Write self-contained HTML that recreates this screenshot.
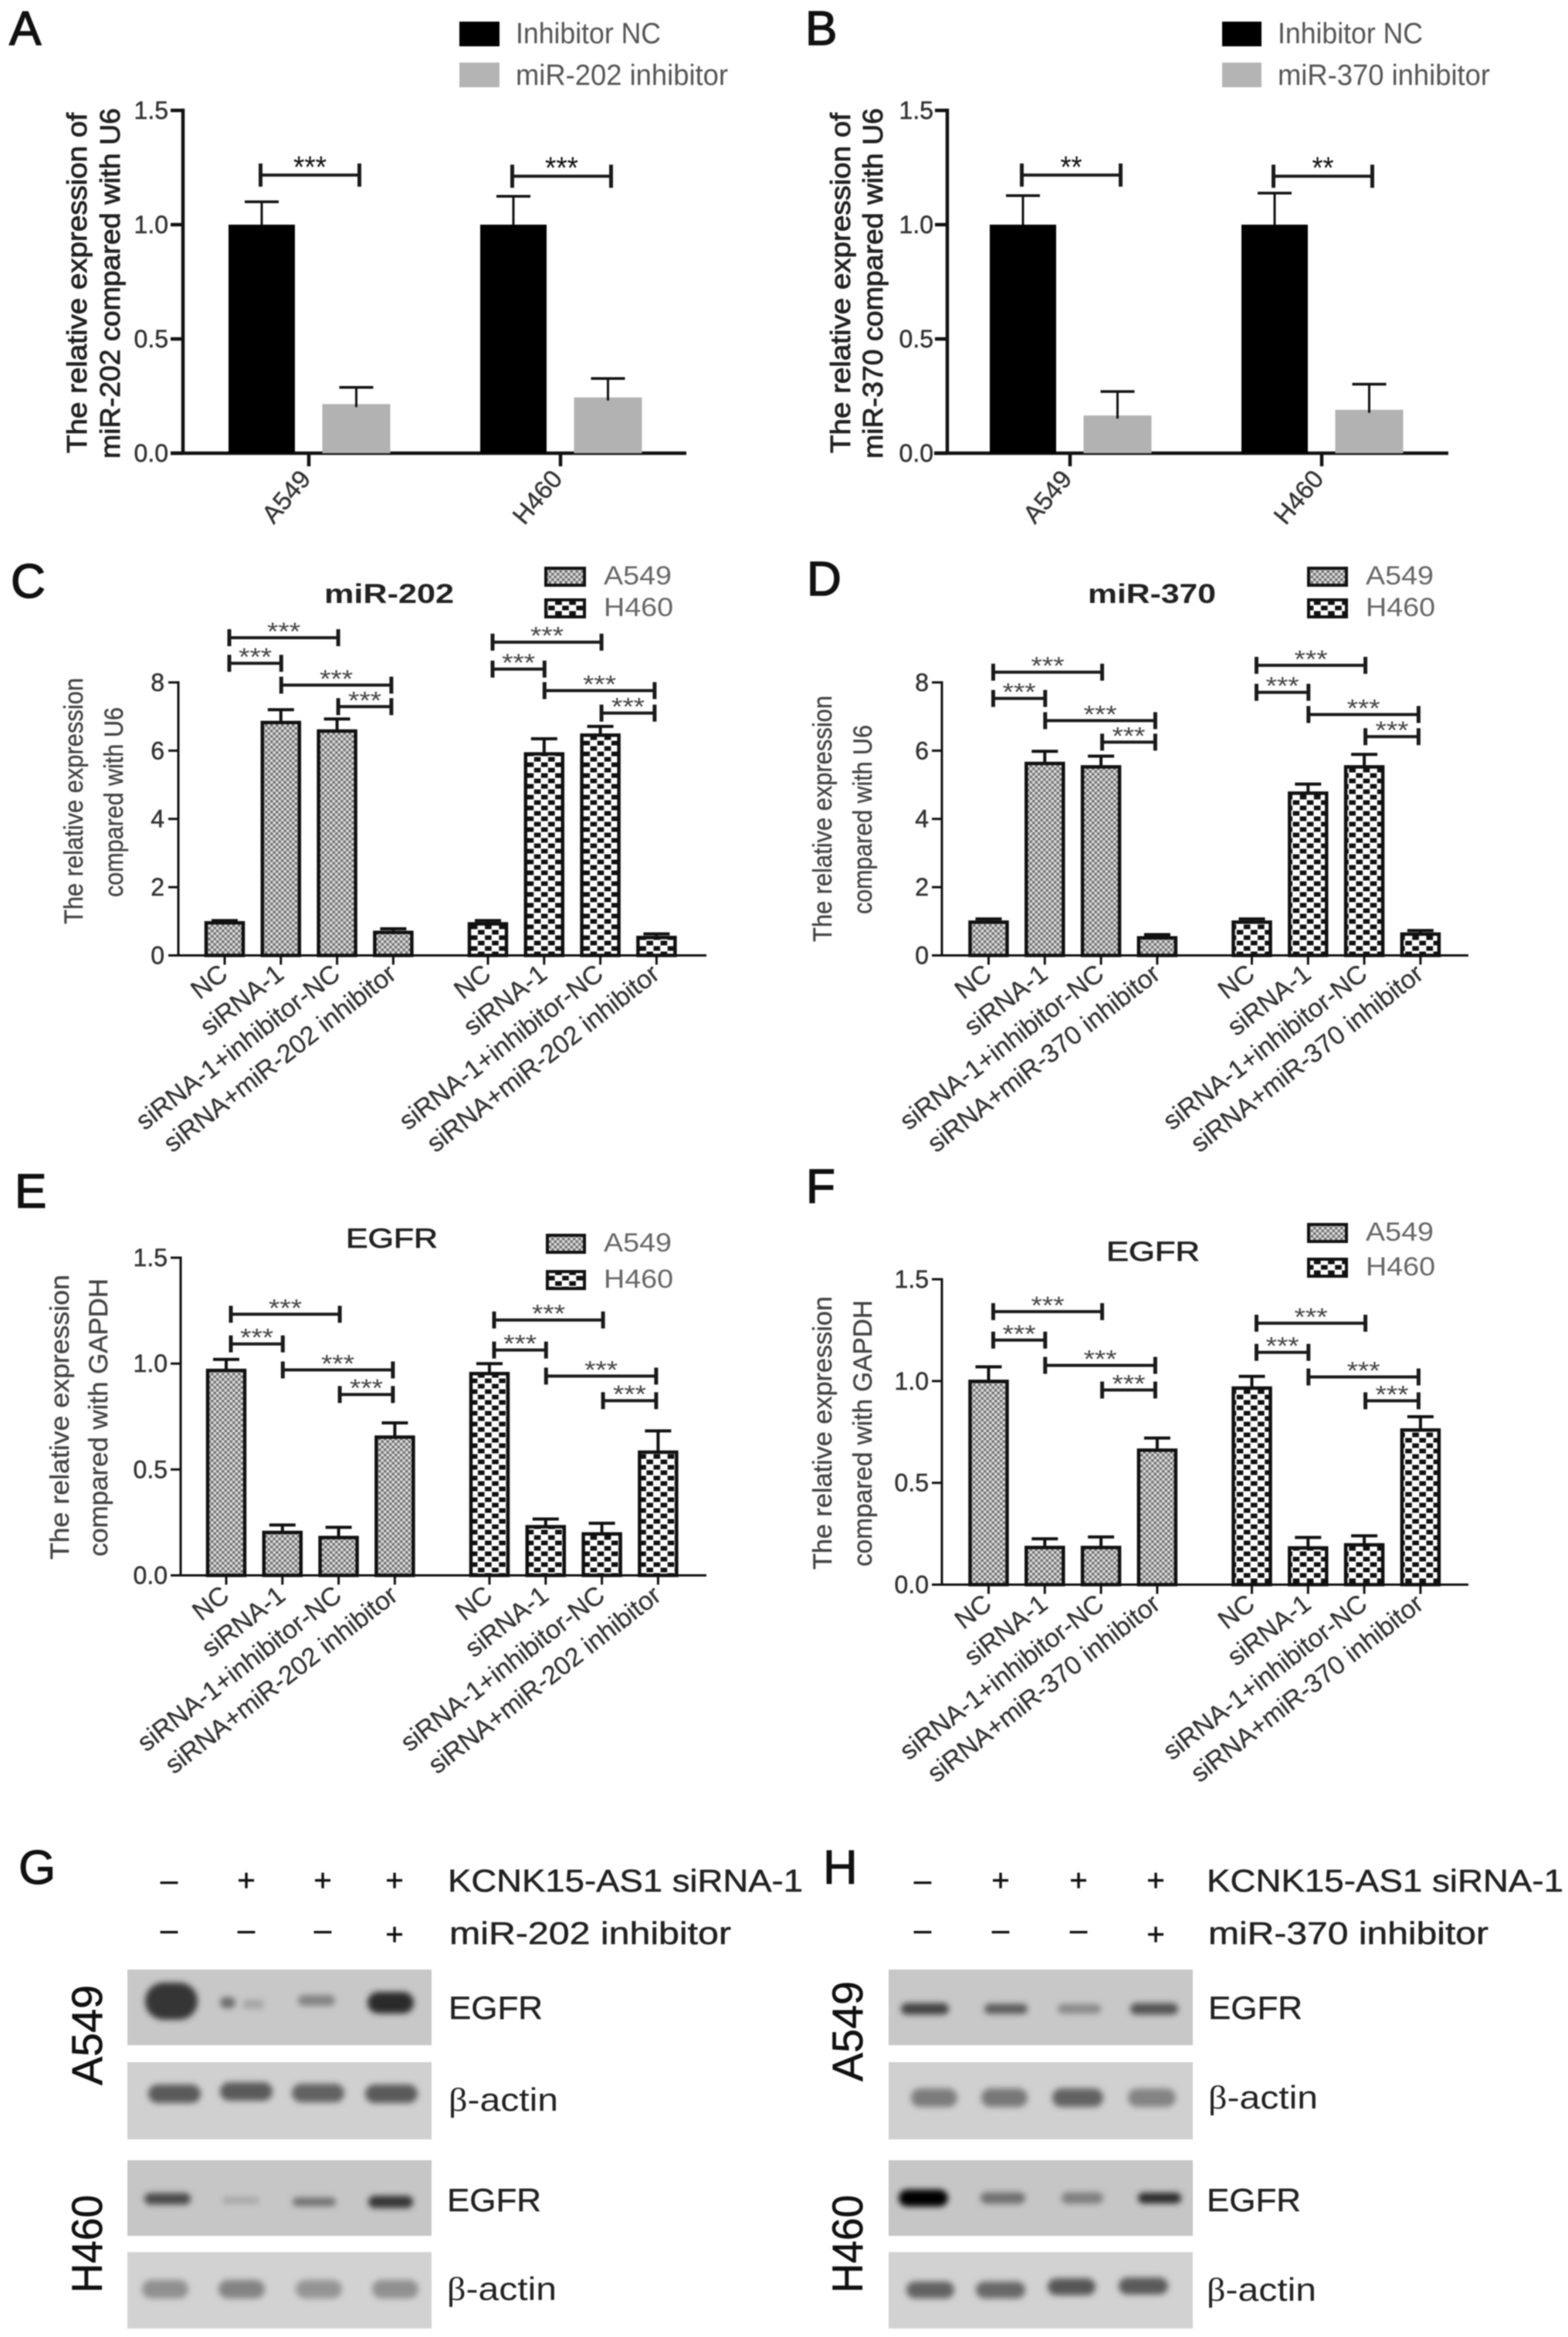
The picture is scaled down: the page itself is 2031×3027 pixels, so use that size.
<!DOCTYPE html>
<html lang="en">
<head>
<meta charset="utf-8">
<title>miR-202 and miR-370 expression and EGFR blots</title>
<style>
html,body{margin:0;padding:0;background:#fff;}
#figure{display:block;filter:blur(0.7px);font-family:"Liberation Sans",sans-serif;}
</style>
</head>
<body>
<svg id="figure" xmlns="http://www.w3.org/2000/svg" width="2031" height="3027" viewBox="0 0 2031 3027">
  <defs>
    <pattern id="fineCheck" patternUnits="userSpaceOnUse" width="7" height="7">
      <rect width="7" height="7" fill="#dddddd"/>
      <rect width="3.5" height="3.5" fill="#747474"/>
      <rect x="3.5" y="3.5" width="3.5" height="3.5" fill="#747474"/>
    </pattern>
    <pattern id="coarseCheck" patternUnits="userSpaceOnUse" width="18.2" height="14">
      <rect width="18.2" height="14" fill="#fff"/>
      <rect width="8.6" height="6" x="0.2" y="0.5" fill="#111"/>
      <rect x="9.3" y="7.5" width="8.6" height="6" fill="#111"/>
    </pattern>
    <filter id="bandBlur" x="-40%" y="-100%" width="180%" height="300%"><feGaussianBlur stdDeviation="4"/></filter>
  </defs>
  <rect width="2031" height="3027" fill="#fff"/>
</svg>
<script>
// ---- Panels A and B ----
const simpleCategories = ['A549', 'H460'];
const simpleTicks = [0, 0.5, 1.0, 1.5];
const simpleTickLabels = ['0.0', '0.5', '1.0', '1.5'];
const aNC = [1.0, 1.0];
const aNCErr = [0.10, 0.124];
const aInhibitor = [0.215, 0.244];
const aInhibitorErr = [0.073, 0.083];
const aBracket = [1.217, 1.212];
const aStars = ['***', '***'];
const bNC = [1.0, 1.0];
const bNCErr = [0.127, 0.138];
const bInhibitor = [0.165, 0.19];
const bInhibitorErr = [0.105, 0.112];
const bBracket = [1.217, 1.212];
const bStars = ['**', '**'];

// ---- Panels C to F ----
const cTicks = [0, 2, 4, 6, 8];
const cTickLabels = ['0', '2', '4', '6', '8'];
const eTicks = [0, 0.5, 1.0, 1.5];
const eTickLabels = ['0.0', '0.5', '1.0', '1.5'];
const categories202 = ['NC', 'siRNA-1', 'siRNA-1+inhibitor-NC', 'siRNA+miR-202 inhibitor'];
const categories370 = ['NC', 'siRNA-1', 'siRNA-1+inhibitor-NC', 'siRNA+miR-370 inhibitor'];

const cA549 = [1.0, 6.87, 6.62, 0.72];
const cA549Err = [0.02, 0.33, 0.31, 0.06];
const cH460 = [0.97, 5.95, 6.5, 0.57];
const cH460Err = [0.05, 0.40, 0.21, 0.06];
const cBracketA549 = [8.56, 9.31, 7.92, 7.29];
const cBracketH460 = [8.39, 9.18, 7.76, 7.10];

const dA549 = [1.02, 5.67, 5.57, 0.56];
const dA549Err = [0.05, 0.31, 0.27, 0.05];
const dH460 = [1.02, 4.8, 5.57, 0.67];
const dH460Err = [0.05, 0.22, 0.32, 0.06];
const dBracketA549 = [7.53, 8.30, 6.88, 6.25];
const dBracketH460 = [7.71, 8.50, 7.06, 6.41];

const eA549 = [0.975, 0.21, 0.186, 0.66];
const eA549Err = [0.045, 0.028, 0.041, 0.06];
const eH460 = [0.96, 0.237, 0.203, 0.589];
const eH460Err = [0.04, 0.029, 0.043, 0.093];
const eBracketA549 = [1.093, 1.233, 0.97, 0.854];
const eBracketH460 = [1.064, 1.206, 0.941, 0.825];

const fA549 = [1.006, 0.19, 0.19, 0.668];
const fA549Err = [0.064, 0.035, 0.044, 0.052];
const fH460 = [0.973, 0.188, 0.203, 0.767];
const fH460Err = [0.05, 0.044, 0.037, 0.058];
const fBracketA549 = [1.201, 1.341, 1.077, 0.956];
const fBracketH460 = [1.141, 1.284, 1.02, 0.903];

// bracket spans, as pairs of bar indices within a group
const bracketFrom = [0, 0, 1, 2];
const bracketTo = [1, 2, 3, 3];

// ---- Western blot band darkness, one value per band ----
const gEgfrA549Dark = [0.74, 0.48, 0.20, 0.36, 0.80];
const gActinA549Dark = [0.56, 0.56, 0.52, 0.56];
const gEgfrH460Dark = [0.64, 0.20, 0.46, 0.74];
const gActinH460Dark = [0.30, 0.36, 0.28, 0.30];
const hEgfrA549Dark = [0.68, 0.56, 0.34, 0.60];
const hActinA549Dark = [0.40, 0.42, 0.52, 0.36];
const hEgfrH460Dark = [1.0, 0.46, 0.38, 0.80];
const hActinH460Dark = [0.52, 0.50, 0.58, 0.56];
const firstRowSymbols = ['–', '+', '+', '+'];
const secondRowSymbols = ['–', '–', '–', '+'];

const NS = 'http://www.w3.org/2000/svg';
const root = document.getElementById('figure');

function el(parent, tag, name, attrs, content) {
  const node = document.createElementNS(NS, tag);
  for (const key in attrs) {
    node.setAttribute(key, attrs[key]);
  }
  
  
  if (content !== undefined) {
    node.textContent = content;
  }
  parent.appendChild(node);
  return node;
}

function txt(parent, name, x, y, str, o) {
  o = o || {};
  const attrs = {
    x: x, y: y,
    'font-size': o.size || 32,
    fill: o.fill || '#333',
    'text-anchor': o.anchor || 'start'
  };
  if (o.weight) attrs['font-weight'] = o.weight;
  if (o.len) {
    attrs.textLength = o.len;
    attrs.lengthAdjust = 'spacingAndGlyphs';
  }
  if (o.rotate !== undefined) attrs.transform = 'rotate(' + o.rotate + ' ' + x + ' ' + y + ')';
  if (o.stroke) {
    attrs.stroke = o.fill || '#333';
    attrs['stroke-width'] = o.stroke;
  }
  return el(parent, 'text', name, attrs, str);
}

function line(parent, name, x1, y1, x2, y2, w, color) {
  return el(parent, 'line', name, {x1: x1, y1: y1, x2: x2, y2: y2, stroke: color || '#111', 'stroke-width': w});
}

function drawAxes(g, c, ticks, labels) {
  const y = function (v) { return c.y0 - v * c.scale; };
  line(g, 'y-axis', c.axisX, y(ticks[ticks.length - 1]) - c.axisW / 2, c.axisX, c.y0, c.axisW);
  line(g, 'x-axis', c.xStart, c.y0, c.xEnd, c.y0, c.axisW);
  ticks.forEach(function (t, i) {
    line(g, 'y-tick-' + labels[i], c.axisX - c.tickLen, y(t), c.axisX, y(t), c.axisW);
    txt(g, 'y-tick-label-' + labels[i], c.tickRight, y(t) + 11, labels[i], {size: c.tickSize || 32, anchor: 'end', fill: '#333', stroke: 0.5});
  });
  return y;
}

function bracket(g, name, x1, x2, yy, stars, o) {
  o = o || {};
  const capH = o.capH || 11;
  line(g, name + '-line', x1, yy, x2, yy, o.w || 4, '#1a1a1a');
  line(g, name + '-cap-left', x1, yy - capH, x1, yy + capH, 5, '#1a1a1a');
  line(g, name + '-cap-right', x2, yy - capH, x2, yy + capH, 5, '#1a1a1a');
  txt(g, name + '-stars', (x1 + x2) / 2, yy + (o.starDy === undefined ? 3 : o.starDy), stars, {
    size: o.starSize || 32, anchor: 'middle', fill: o.starFill || '#444',
    len: (stars.length === 3 ? (o.starLen || 43) : 28)
  });
}

function drawSimple(id, c, nc, ncErr, inh, inhErr, bracketVals, stars) {
  const g = el(root, 'g', 'panel-' + id, {});
  txt(g, 'panel-letter-' + id, c.letterX, 58, id.toUpperCase(), {size: 62, fill: '#111', stroke: 1.5});
  el(g, 'rect', 'legend-swatch-inhibitor-nc', {x: c.legendX, y: 28, width: c.legendW, height: 32, fill: '#000'});
  el(g, 'rect', 'legend-swatch-inhibitor', {x: c.legendX, y: 81, width: c.legendW, height: 32, fill: '#b4b4b4'});
  txt(g, 'legend-label-inhibitor-nc', c.legendTextX, 56, 'Inhibitor NC', {size: 38, fill: '#555', len: 188});
  txt(g, 'legend-label-inhibitor', c.legendTextX, 110, c.inhName, {size: 38, fill: '#555', len: 275});
  const y = drawAxes(g, c, simpleTicks, simpleTickLabels);
  simpleCategories.forEach(function (cat, i) {
    const tick = c.firstTick + i * c.tickStep;
    const xa = tick - 61;
    const xb = tick + 61.5;
    el(g, 'rect', 'bar-inhibitor-nc-' + cat, {x: xa - 43, y: y(nc[i]), width: 86, height: c.y0 - y(nc[i]), fill: '#000'});
    el(g, 'rect', 'bar-inhibitor-' + cat, {x: xb - 44, y: y(inh[i]), width: 88, height: c.y0 - y(inh[i]), fill: '#b2b2b2'});
    line(g, 'error-stem-inhibitor-nc-' + cat, xa, y(nc[i]), xa, y(nc[i] + ncErr[i]), 3);
    line(g, 'error-cap-inhibitor-nc-' + cat, xa - 22, y(nc[i] + ncErr[i]), xa + 22, y(nc[i] + ncErr[i]), 3.5);
    line(g, 'error-stem-inhibitor-' + cat, xb, y(inh[i]) + 4, xb, y(inh[i] + inhErr[i]), 3);
    line(g, 'error-cap-inhibitor-' + cat, xb - 22, y(inh[i] + inhErr[i]), xb + 22, y(inh[i] + inhErr[i]), 3.5);
    line(g, 'x-tick-' + cat, tick, c.y0, tick, c.y0 + 17, c.axisW);
    txt(g, 'x-label-' + cat, tick + 4, c.y0 + 34, cat, {size: 33, anchor: 'end', rotate: -50, fill: '#333', stroke: 0.4});
    bracket(g, 'significance-bracket-' + cat, xa - 1.5, xa + 126.5, y(bracketVals[i]), stars[i], {w: 4, capH: 15, starSize: 40, starFill: '#111', starDy: 3});
  });
  txt(g, 'y-axis-title-line-1', c.titleX1, 587, 'The relative expression of', {size: 36, rotate: -90, fill: '#222', len: 441, stroke: 0.9});
  txt(g, 'y-axis-title-line-2', c.titleX2, 594, c.titleLine2, {size: 36, rotate: -90, fill: '#222', len: 454, stroke: 0.9});
}

function legendPatterned(g, c) {
  el(g, 'rect', 'legend-swatch-a549', {x: c.legendX + 2, y: c.legendY1 + 2, width: c.legendW - 4, height: 22, fill: 'url(#fineCheck)', stroke: '#111', 'stroke-width': 4});
  el(g, 'rect', 'legend-swatch-h460', {x: c.legendX + 2, y: c.legendY2 + 2, width: c.legendW - 4, height: 22, fill: 'url(#coarseCheck)', stroke: '#111', 'stroke-width': 4});
  txt(g, 'legend-label-a549', c.legendTextX, c.legendY1 + 23, 'A549', {size: 34, fill: '#666', len: 88});
  txt(g, 'legend-label-h460', c.legendTextX, c.legendY2 + 23, 'H460', {size: 34, fill: '#666', len: 90});
}

function drawGrouped(id, c, ticks, labels, cats, s1, s1e, s2, s2e, b1, b2) {
  const g = el(root, 'g', 'panel-' + id, {});
  txt(g, 'panel-letter-' + id, c.letterX, c.letterY, id.toUpperCase(), {size: 62, fill: '#111', stroke: 1.5});
  const titleOpts = {size: 35, fill: '#222', len: c.chartTitleLen};
  if (c.chartTitleBold) titleOpts.weight = 'bold'; else titleOpts.stroke = 0.8;
  txt(g, 'chart-title', c.chartTitleX, c.chartTitleY, c.chartTitle, titleOpts);
  legendPatterned(g, c);
  const y = drawAxes(g, c, ticks, labels);
  const groups = [
    {name: 'a549', values: s1, errs: s1e, brackets: b1, fill: 'url(#fineCheck)', offset: 0},
    {name: 'h460', values: s2, errs: s2e, brackets: b2, fill: 'url(#coarseCheck)', offset: c.groupOffset}
  ];
  const bracketAdjust = c.bracketAdjust;
  groups.forEach(function (gr) {
    gr.values.forEach(function (v, i) {
      const cx = c.firstBar + gr.offset + i * c.barStep;
      const key = gr.name + '-' + (i + 1);
      line(g, 'error-stem-' + key, cx, y(v), cx, y(v + gr.errs[i]), 4);
      line(g, 'error-cap-' + key, cx - 17, y(v + gr.errs[i]), cx + 17, y(v + gr.errs[i]), 4);
      el(g, 'rect', 'bar-' + key, {x: cx - 24, y: y(v) + 2, width: 48, height: c.y0 - y(v) - 2, fill: gr.fill, stroke: '#111', 'stroke-width': 4.5});
      line(g, 'x-tick-' + key, cx, c.y0, cx, c.y0 + 12, 3);
      txt(g, 'x-label-' + key, cx + 6, c.y0 + c.labelDy, cats[i], {size: 33.8, anchor: 'end', rotate: -38, fill: '#333', stroke: 0.3});
    });
    gr.brackets.forEach(function (b, i) {
      const bx = function (k) { return c.firstBar + gr.offset + k * c.barStep + bracketAdjust[k]; };
      bracket(g, 'significance-bracket-' + gr.name + '-' + (i + 1), bx(bracketFrom[i]), bx(bracketTo[i]), y(b), '***');
    });
  });
  txt(g, 'y-axis-title-line-1', c.t1x, c.t1y, 'The relative expression', {size: 34, rotate: -90, fill: '#444', len: c.t1len, stroke: 0.4});
  txt(g, 'y-axis-title-line-2', c.t2x, c.t2y, c.line2, {size: 34, rotate: -90, fill: '#444', len: c.t2len, stroke: 0.4});
}

function gray(d) {
  const v = Math.round(205 - d * 205);
  return 'rgb(' + v + ',' + v + ',' + v + ')';
}

function blot(g, name, x, y, w, h, bg, centers, darkness, bandW, bandH, bandY) {
  el(g, 'rect', name + '-membrane', {x: x, y: y, width: w, height: h, fill: bg});
  darkness.forEach(function (d, i) {
    const bw = Array.isArray(bandW) ? bandW[i] : bandW;
    const bh = Array.isArray(bandH) ? bandH[i] : bandH;
    const cy = Array.isArray(bandY) ? bandY[i] : bandY;
    el(g, 'rect', name + '-band-' + (i + 1), {
      x: centers[i] - bw / 2, y: cy - bh / 2, width: bw, height: bh,
      rx: bh / 2, ry: bh / 2,
      fill: gray(d), filter: 'url(#bandBlur)'
    });
  });
}

function actinLabel(g, name, x, y, len) {
  const t = txt(g, name, x, y, '', {size: 42, fill: '#222', len: len});
  const beta = el(t, 'tspan', name + '-beta', {'font-family': '"Liberation Serif",serif'}, 'β');
  const rest = el(t, 'tspan', name + '-text', {}, '-actin');
  return [beta, rest];
}

function drawBlotPanel(id, c) {
  const g = el(root, 'g', 'panel-' + id, {});
  txt(g, 'panel-letter-' + id, c.letterX, 2440, id.toUpperCase(), {size: 62, fill: '#111', stroke: 1});
  firstRowSymbols.forEach(function (s, i) {
    txt(g, 'sirna-row-symbol-' + (i + 1), c.symbols[i], 2449, s, {size: 40, anchor: 'middle', fill: '#111', stroke: 0.6});
  });
  secondRowSymbols.forEach(function (s, i) {
    txt(g, 'inhibitor-row-symbol-' + (i + 1), c.symbols[i], s === '+' ? 2519 : 2513, s, {size: 40, anchor: 'middle', fill: '#111', stroke: 0.6});
  });
  txt(g, 'sirna-row-label', c.rowTextX, 2450, 'KCNK15-AS1 siRNA-1', {size: 41, fill: '#222', len: c.row1Len, stroke: 0.5});
  txt(g, 'inhibitor-row-label', c.rowTextX + 2, 2518, c.inhName, {size: 41, fill: '#222', len: c.row2Len, stroke: 0.5});
  blot(g, 'blot-a549-egfr', c.x, 2551, c.w, 98, '#c8c8c8', c.egfrA.lanes, c.egfrA.dark, c.egfrA.bw, c.egfrA.bh, c.egfrA.y);
  blot(g, 'blot-a549-actin', c.x, 2671, c.w, 100, '#d0d0d0', c.actinA.lanes, c.actinA.dark, c.actinA.bw, c.actinA.bh, c.actinA.y);
  blot(g, 'blot-h460-egfr', c.x, 2798, c.w, 98, '#c6c6c6', c.egfrH.lanes, c.egfrH.dark, c.egfrH.bw, c.egfrH.bh, c.egfrH.y);
  blot(g, 'blot-h460-actin', c.x, 2917, c.w, 99, '#d2d2d2', c.actinH.lanes, c.actinH.dark, c.actinH.bw, c.actinH.bh, c.actinH.y);
  txt(g, 'protein-label-a549-egfr', c.labelX, 2615, 'EGFR', {size: 42, fill: '#222', len: 122, stroke: 0.4});
  actinLabel(g, 'protein-label-a549-actin', c.labelX, c.actinY1, 142);
  txt(g, 'protein-label-h460-egfr', c.labelX - 2, 2864, 'EGFR', {size: 42, fill: '#222', len: 122, stroke: 0.4});
  actinLabel(g, 'protein-label-h460-actin', c.labelX - 2, c.actinY2, 142);
  txt(g, 'cell-line-label-a549', c.cellX, c.cellYA, 'A549', {size: 56, rotate: -90, fill: '#111', len: 130, stroke: 0.6});
  txt(g, 'cell-line-label-h460', c.cellX, 2970, 'H460', {size: 56, rotate: -90, fill: '#111', len: 127, stroke: 0.6});
}

drawSimple('a', {
  letterX: 12, legendX: 595, legendW: 52, legendTextX: 668, inhName: 'miR-202 inhibitor',
  y0: 587, scale: 296, axisX: 237, axisW: 4.5, xStart: 221, xEnd: 889, tickLen: 16, tickRight: 218,
  firstTick: 400, tickStep: 326, titleX1: 112, titleX2: 155, titleLine2: 'miR-202 compared with U6'
}, aNC, aNCErr, aInhibitor, aInhibitorErr, aBracket, aStars);

drawSimple('b', {
  letterX: 1043, legendX: 1583, legendW: 51, legendTextX: 1655, inhName: 'miR-370 inhibitor',
  y0: 587, scale: 296, axisX: 1227, axisW: 4.5, xStart: 1210, xEnd: 1876, tickLen: 16, tickRight: 1209,
  firstTick: 1386, tickStep: 326, titleX1: 1101, titleX2: 1143, titleLine2: 'miR-370 compared with U6'
}, bNC, bNCErr, bInhibitor, bInhibitorErr, bBracket, bStars);

drawGrouped('c', {
  letterX: 14, letterY: 774, chartTitle: 'miR-202', chartTitleX: 420, chartTitleY: 781, chartTitleLen: 168, chartTitleBold: true,
  legendX: 705, legendW: 54, legendY1: 734, legendY2: 775, legendTextX: 782,
  y0: 1237.5, scale: 44.2, axisX: 231, axisW: 3, xStart: 218, xEnd: 915, tickLen: 13, tickRight: 213,
  firstBar: 291, barStep: 72.8, groupOffset: 341, bracketAdjust: [6, 0.5, 1.5, -2.5], labelDy: 28,
  t1x: 107, t1y: 1197, t1len: 319, t2x: 159, t2y: 1162, t2len: 246, line2: 'compared with U6'
}, cTicks, cTickLabels, categories202, cA549, cA549Err, cH460, cH460Err, cBracketA549, cBracketH460);

drawGrouped('d', {
  letterX: 1045, letterY: 771, chartTitle: 'miR-370', chartTitleX: 1409, chartTitleY: 781, chartTitleLen: 166, chartTitleBold: true,
  legendX: 1693, legendW: 53, legendY1: 734, legendY2: 775, legendTextX: 1769,
  y0: 1237.5, scale: 44.2, axisX: 1220, axisW: 3, xStart: 1207, xEnd: 1902, tickLen: 13, tickRight: 1203,
  firstBar: 1280.5, barStep: 72.8, groupOffset: 341, bracketAdjust: [6, 0.5, 1.5, -2.5], labelDy: 28,
  t1x: 1077, t1y: 1220, t1len: 319, t2x: 1129, t2y: 1184, t2len: 245, line2: 'compared with U6'
}, cTicks, cTickLabels, categories370, dA549, dA549Err, dH460, dH460Err, dBracketA549, dBracketH460);

drawGrouped('e', {
  letterX: 19, letterY: 1564, chartTitle: 'EGFR', chartTitleX: 448, chartTitleY: 1616, chartTitleLen: 119, chartTitleBold: false,
  legendX: 707, legendW: 52, legendY1: 1598, legendY2: 1645, legendTextX: 782,
  y0: 2040.5, scale: 274.3, axisX: 234, axisW: 3, xStart: 221, xEnd: 915, tickLen: 13, tickRight: 217,
  firstBar: 293, barStep: 72.8, groupOffset: 341, bracketAdjust: [6, 0.5, 1.5, -2.5], labelDy: 30,
  t1x: 89, t1y: 2020, t1len: 369, t2x: 139, t2y: 2016, t2len: 360, line2: 'compared with GAPDH'
}, eTicks, eTickLabels, categories202, eA549, eA549Err, eH460, eH460Err, eBracketA549, eBracketH460);

drawGrouped('f', {
  letterX: 1044, letterY: 1558, chartTitle: 'EGFR', chartTitleX: 1433, chartTitleY: 1633, chartTitleLen: 121, chartTitleBold: false,
  legendX: 1693, legendW: 53, legendY1: 1584, legendY2: 1629, legendTextX: 1769,
  y0: 2052.5, scale: 263.7, axisX: 1220, axisW: 3, xStart: 1207, xEnd: 1902, tickLen: 13, tickRight: 1203,
  firstBar: 1280.5, barStep: 72.8, groupOffset: 341, bracketAdjust: [6, 0.5, 1.5, -2.5], labelDy: 29,
  t1x: 1077, t1y: 2033, t1len: 354, t2x: 1129, t2y: 2029, t2len: 345, line2: 'compared with GAPDH'
}, eTicks, eTickLabels, categories370, fA549, fA549Err, fH460, fH460Err, fBracketA549, fBracketH460);

drawBlotPanel('g', {
  letterX: 24, symbols: [219, 319, 418, 511], rowTextX: 580, row1Len: 460, row2Len: 365, inhName: 'miR-202 inhibitor',
  x: 165, w: 394, labelX: 581, actinY1: 2734, actinY2: 2979, cellX: 132, cellYA: 2701,
  egfrA: {lanes: [222, 295, 328, 410, 506], dark: gEgfrA549Dark, bw: [68, 20, 28, 48, 60], bh: [48, 14, 12, 14, 28], y: [2592, 2594, 2596, 2591, 2594]},
  actinA: {lanes: [226, 319, 412, 507], dark: gActinA549Dark, bw: 68, bh: 24, y: [2712, 2709, 2711, 2712]},
  egfrH: {lanes: [217, 312, 407, 506], dark: gEgfrH460Dark, bw: [60, 48, 56, 58], bh: [15, 8, 11, 16], y: [2848, 2850, 2852, 2852]},
  actinH: {lanes: [214, 313, 413, 512], dark: gActinH460Dark, bw: 60, bh: 24, y: 2965}
});

drawBlotPanel('h', {
  letterX: 1066, symbols: [1195, 1296, 1397, 1497], rowTextX: 1563, row1Len: 462, row2Len: 363, inhName: 'miR-370 inhibitor',
  x: 1151, w: 394, labelX: 1565, actinY1: 2731, actinY2: 2980, cellX: 1117, cellYA: 2696,
  egfrA: {lanes: [1198, 1303, 1398, 1495], dark: hEgfrA549Dark, bw: [62, 56, 56, 62], bh: [15, 13, 12, 15], y: 2602},
  actinA: {lanes: [1210, 1301, 1396, 1492], dark: hActinA549Dark, bw: [60, 60, 66, 62], bh: 24, y: 2717},
  egfrH: {lanes: [1196, 1299, 1402, 1502], dark: hEgfrH460Dark, bw: [64, 58, 54, 56], bh: [22, 15, 15, 14], y: 2847},
  actinH: {lanes: [1205, 1296, 1388, 1481], dark: hActinH460Dark, bw: [62, 64, 62, 64], bh: 22, y: [2966, 2966, 2962, 2961]}
});
</script>
</body>
</html>
